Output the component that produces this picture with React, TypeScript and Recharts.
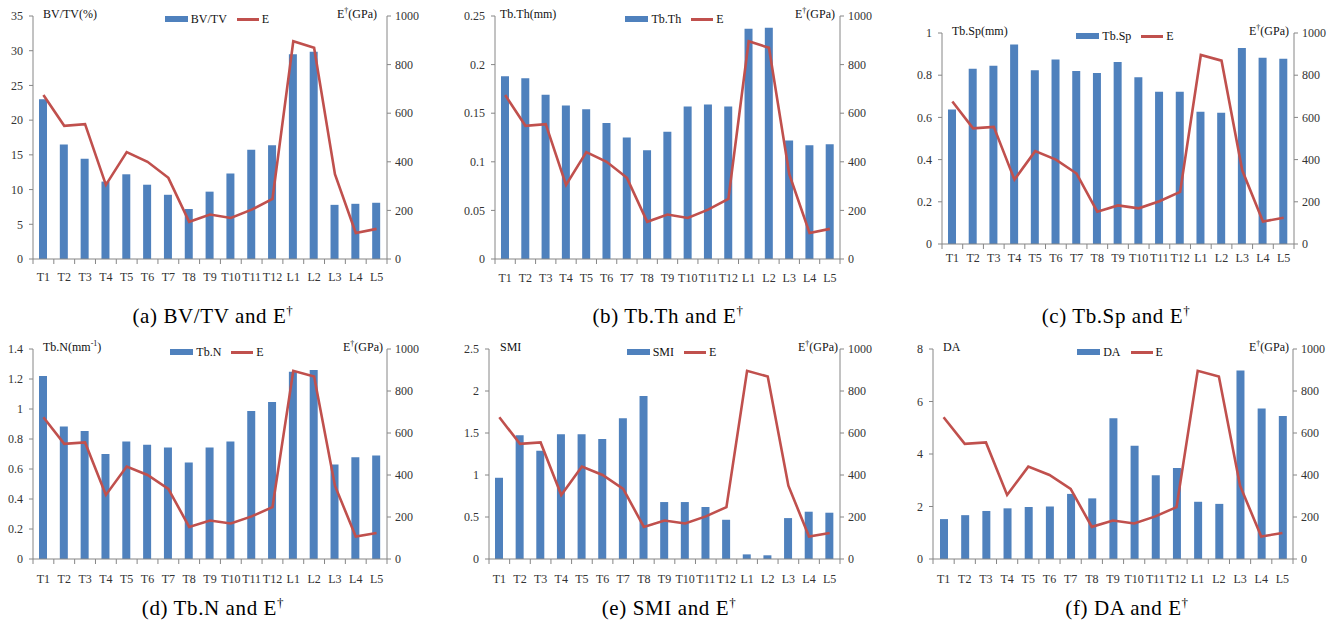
import React from 'react'
import { ComposedChart, Bar, Line, XAxis, YAxis, Legend } from 'recharts'

const categories = ['T1', 'T2', 'T3', 'T4', 'T5', 'T6', 'T7', 'T8', 'T9', 'T10', 'T11', 'T12', 'L1', 'L2', 'L3', 'L4', 'L5']

// E (GPa), same line in every panel
const eValues = [675, 548, 555, 305, 440, 400, 334, 153, 183, 169, 203, 247, 896, 869, 349, 107, 124]

const bvtv = [23.0, 16.5, 14.45, 11.15, 12.2, 10.7, 9.25, 7.2, 9.7, 12.3, 15.75, 16.4, 29.5, 29.85, 7.8, 7.95, 8.1]
const tbTh = [0.188, 0.186, 0.169, 0.158, 0.154, 0.14, 0.125, 0.112, 0.131, 0.157, 0.159, 0.157, 0.237, 0.238, 0.122, 0.117, 0.118]
const tbSp = [0.638, 0.831, 0.845, 0.946, 0.823, 0.874, 0.82, 0.81, 0.862, 0.79, 0.722, 0.722, 0.627, 0.622, 0.929, 0.883, 0.878]
const tbN = [1.22, 0.883, 0.854, 0.7, 0.783, 0.761, 0.743, 0.643, 0.743, 0.783, 0.987, 1.047, 1.249, 1.26, 0.63, 0.679, 0.69]
const smi = [0.967, 1.473, 1.29, 1.485, 1.485, 1.43, 1.676, 1.94, 0.678, 0.678, 0.618, 0.467, 0.055, 0.044, 0.487, 0.563, 0.551]
const da = [1.52, 1.67, 1.83, 1.93, 1.98, 2.0, 2.48, 2.31, 5.36, 4.31, 3.19, 3.47, 2.18, 2.1, 7.18, 5.73, 5.45]

const bvtvTicks = [0, 5, 10, 15, 20, 25, 30, 35]
const tbThTicks = [0, 0.05, 0.1, 0.15, 0.2, 0.25]
const tbSpTicks = [0, 0.2, 0.4, 0.6, 0.8, 1]
const tbNTicks = [0, 0.2, 0.4, 0.6, 0.8, 1, 1.2, 1.4]
const smiTicks = [0, 0.5, 1, 1.5, 2, 2.5]
const daTicks = [0, 2, 4, 6, 8]
const eTicks = [0, 200, 400, 600, 800, 1000]

const FONT = '"Liberation Serif", serif'
const BLUE = '#4F81BD'
const RED = '#C0504D'
const AXIS = '#868686'
const TICK = '#333'

const PAD_L = 40
const PAD_R = 44
const PAD_T = 22
const PAD_B = 34

interface PanelProps {
  left: number
  right: number
  top: number
  bottom: number
  name: string
  values: number[]
  ticks: number[]
  yTitle: React.ReactNode
  titleDx: number
  eDx: number
  labelDy: number
}

function Panel(p: PanelProps) {
  const w = p.right - p.left + PAD_L + PAD_R
  const h = p.bottom - p.top + PAD_T + PAD_B
  const band = (p.right - p.left) / categories.length
  const data = categories.map((c, i) => ({ name: c, v: p.values[i], e: eValues[i] }))

  const XTick = (props: any) => {
    const { x, y, payload, index } = props
    return (
      <g>
        <line x1={x - band / 2} x2={x - band / 2} y1={y} y2={y + 5} stroke={AXIS} />
        {index === categories.length - 1 && (
          <line x1={x + band / 2} x2={x + band / 2} y1={y} y2={y + 5} stroke={AXIS} />
        )}
        <text x={x} y={y + p.labelDy} textAnchor="middle" fontSize={12} fill={TICK} fontFamily={FONT}>
          {payload.value}
        </text>
      </g>
    )
  }

  const renderLegend = () => (
    <div style={{ display: 'flex', alignItems: 'center', justifyContent: 'center', fontFamily: FONT, fontSize: 12, color: '#111', lineHeight: '14px' }}>
      <span style={{ display: 'inline-block', width: 23, height: 6, background: BLUE, marginRight: 3 }} />
      <span>{p.name}</span>
      <span style={{ display: 'inline-block', width: 22, height: 3, background: RED, marginLeft: 10, marginRight: 3 }} />
      <span>E</span>
    </div>
  )

  return (
    <div style={{ position: 'absolute', left: p.left - PAD_L, top: p.top - PAD_T, width: w, height: h }}>
      <ComposedChart width={w} height={h} data={data} margin={{ top: PAD_T, right: 0, bottom: 0, left: 0 }}>
        <XAxis
          dataKey="name"
          height={PAD_B}
          interval={0}
          tickSize={0}
          tickMargin={0}
          tickLine={false}
          axisLine={{ stroke: AXIS }}
          tick={XTick}
        />
        <YAxis
          yAxisId="left"
          orientation="left"
          width={PAD_L}
          domain={[0, p.ticks[p.ticks.length - 1]]}
          ticks={p.ticks}
          interval={0}
          tickSize={4}
          tickMargin={6}
          axisLine={{ stroke: AXIS }}
          tickLine={{ stroke: AXIS }}
          tick={{ fontSize: 12, fill: TICK, fontFamily: FONT }}
        />
        <YAxis
          yAxisId="right"
          orientation="right"
          width={PAD_R}
          domain={[0, 1000]}
          ticks={eTicks}
          interval={0}
          tickSize={4}
          tickMargin={4}
          axisLine={{ stroke: AXIS }}
          tickLine={{ stroke: AXIS }}
          tick={{ fontSize: 12, fill: TICK, fontFamily: FONT }}
        />
        <Legend
          layout="horizontal"
          verticalAlign="middle"
          align="center"
          content={renderLegend}
          wrapperStyle={{ top: PAD_T - 4, left: 5, width: w }}
        />
        <Bar dataKey="v" name={p.name} yAxisId="left" fill={BLUE} barSize={8} isAnimationActive={false} />
        <Line
          dataKey="e"
          name="E"
          yAxisId="right"
          type="linear"
          stroke={RED}
          strokeWidth={2.6}
          dot={false}
          activeDot={false}
          isAnimationActive={false}
        />
      </ComposedChart>
      <div style={{ position: 'absolute', left: PAD_L + p.titleDx, top: PAD_T - 10, fontFamily: FONT, fontSize: 12, lineHeight: '16px', color: '#111', whiteSpace: 'nowrap' }}>
        {p.yTitle}
      </div>
      <div style={{ position: 'absolute', right: PAD_R + p.eDx, top: PAD_T - 10, fontFamily: FONT, fontSize: 12, lineHeight: '16px', color: '#111', whiteSpace: 'nowrap' }}>
        E<sup style={{ fontSize: 8, lineHeight: 0 }}>†</sup>(GPa)
      </div>
    </div>
  )
}

function Caption({ x, y, text }: { x: number; y: number; text: string }) {
  return (
    <div style={{ position: 'absolute', left: x - 150, top: y - 13, width: 300, textAlign: 'center', fontFamily: FONT, fontSize: 21, letterSpacing: 0.6, lineHeight: '26px', color: '#000', whiteSpace: 'nowrap' }}>
      {text} and E<sup style={{ fontSize: 13, lineHeight: 0 }}>†</sup>
    </div>
  )
}

export default function App() {
  return (
    <div style={{ position: 'absolute', left: 0, top: 0, width: 1341, height: 628, background: '#fff', overflow: 'hidden' }}>
      <Panel left={33} right={387} top={16} bottom={259} name="BV/TV" values={bvtv} ticks={bvtvTicks} yTitle="BV/TV(%)" titleDx={10} eDx={10} labelDy={22} />
      <Panel left={495} right={840} top={16} bottom={259} name="Tb.Th" values={tbTh} ticks={tbThTicks} yTitle="Tb.Th(mm)" titleDx={5} eDx={5} labelDy={23} />
      <Panel left={942} right={1294} top={33} bottom={244} name="Tb.Sp" values={tbSp} ticks={tbSpTicks} yTitle="Tb.Sp(mm)" titleDx={10} eDx={5} labelDy={18} />
      <Panel
        left={33} right={387} top={349} bottom={559} name="Tb.N" values={tbN} ticks={tbNTicks}
        yTitle={<span>Tb.N(mm<sup style={{ fontSize: 8, lineHeight: 0 }}>-1</sup>)</span>}
        titleDx={10} eDx={4} labelDy={24}
      />
      <Panel left={489} right={840} top={349} bottom={559} name="SMI" values={smi} ticks={smiTicks} yTitle="SMI" titleDx={11} eDx={2} labelDy={24} />
      <Panel left={933} right={1293} top={349} bottom={559} name="DA" values={da} ticks={daTicks} yTitle="DA" titleDx={10} eDx={4} labelDy={24} />
      <Caption x={213} y={316} text="(a) BV/TV" />
      <Caption x={668} y={316} text="(b) Tb.Th" />
      <Caption x={1116} y={316} text="(c) Tb.Sp" />
      <Caption x={213} y={608} text="(d) Tb.N" />
      <Caption x={669} y={608} text="(e) SMI" />
      <Caption x={1127} y={608} text="(f) DA" />
    </div>
  )
}
